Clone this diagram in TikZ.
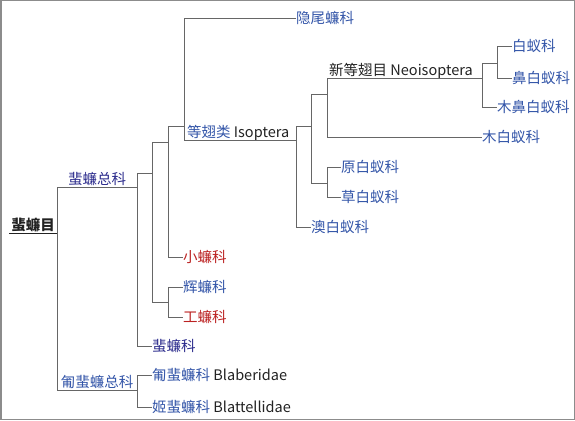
\documentclass[tikz,border=0pt]{standalone}
\usepackage{fontspec}
\setmainfont{Noto Sans CJK SC}
\definecolor{lnk}{HTML}{3355A8}
\definecolor{vis}{HTML}{2B2B8C}
\definecolor{red2}{HTML}{BB2222}
\definecolor{ln}{HTML}{666666}
\definecolor{txt}{HTML}{222222}
\tikzset{
  br/.style={draw=ln, line width=0.9pt},
  leaf/.style={anchor=west, inner sep=0pt, text height=11pt, text depth=0pt, font=\fontsize{14.5}{17}\selectfont},
  lbl/.style={anchor=base, inner sep=0pt, font=\fontsize{14.5}{17}\selectfont},
  lblw/.style={anchor=base west, inner sep=0pt, font=\fontsize{14.5}{17}\selectfont},
}
\begin{document}
\begin{tikzpicture}[x=1pt,y=-1pt]
\useasboundingbox (0,0) rectangle (575,420);
\draw[draw=gray!90, line width=1.5pt] (0.75,0.75) rectangle (574.25,419.25);

% junctions
\coordinate (R)   at (57,233);
\coordinate (S1)  at (137,187);
\coordinate (S2)  at (137,390);
\coordinate (J1)  at (152,173);
\coordinate (J2)  at (168,142);
\coordinate (J3)  at (168,302);
\coordinate (J4)  at (184,126);
\coordinate (J5)  at (296,140);
\coordinate (J6)  at (311,126);
\coordinate (J7)  at (327,94);
\coordinate (J8)  at (327,183);
\coordinate (J9)  at (482,78);
\coordinate (J10) at (497,63);
\coordinate (R0)  at (9,233);

% internal labels
\node[lbl, text=txt, font=\fontsize{14.5}{17}\selectfont\bfseries] (root) at (33,230.5) {蜚蠊目};
\node[lbl, text=vis] (s1) at (97,184.5) {蜚蠊总科};
\node[lbl, text=lnk] (s2) at (97,387.5) {匍蜚蠊总科};
\node[lblw] (iso) at (187,137.5) {\textcolor{lnk}{等翅类} \textcolor{txt}{Isoptera}};
\node[lblw, text=txt] (neo) at (329,75.5) {新等翅目 Neoisoptera};

% leaves
\node[leaf, text=vis]  (f1)  at (152,346) {蜚蠊科};
\node[leaf, text=red2] (f2)  at (183,257) {小蠊科};
\node[leaf, text=lnk]  (f3)  at (183,287) {辉蠊科};
\node[leaf, text=red2] (f4)  at (183,317) {工蠊科};
\node[leaf, text=lnk]  (f5)  at (296,18)  {隐尾蠊科};
\node[leaf, text=lnk]  (f6)  at (311,227) {澳白蚁科};
\node[leaf, text=lnk]  (f7)  at (341,167) {原白蚁科};
\node[leaf, text=lnk]  (f8)  at (341,197) {草白蚁科};
\node[leaf, text=lnk]  (f9)  at (482,137) {木白蚁科};
\node[leaf, text=lnk]  (f10) at (497,107) {木鼻白蚁科};
\node[leaf, text=lnk]  (f11) at (512,46)  {白蚁科};
\node[leaf, text=lnk]  (f12) at (512,78)  {鼻白蚁科};
\node[leaf] (f13) at (152,375) {\textcolor{lnk}{匍蜚蠊科} \textcolor{txt}{Blaberidae}};
\node[leaf] (f14) at (152,407) {\textcolor{lnk}{姬蜚蠊科} \textcolor{txt}{Blattellidae}};

% branches
\draw[draw=txt, line width=0.9pt] (R0) -- (R);
\draw[br] (R) |- (S1);
\draw[br] (R) |- (S2);
\draw[br] (S1) |- (J1);
\draw[br] (S1) |- (f1.west);
\draw[br] (J1) |- (J2);
\draw[br] (J1) |- (J3);
\draw[br] (J2) |- (J4);
\draw[br] (J2) |- (f2.west);
\draw[br] (J3) |- (f3.west);
\draw[br] (J3) |- (f4.west);
\draw[br] (J4) |- (f5.west);
\draw[br] (J4) |- (J5);
\draw[br] (J5) |- (J6);
\draw[br] (J5) |- (f6.west);
\draw[br] (J6) |- (J7);
\draw[br] (J6) |- (J8);
\draw[br] (J8) |- (f7.west);
\draw[br] (J8) |- (f8.west);
\draw[br] (J7) |- (J9);
\draw[br] (J7) |- (f9.west);
\draw[br] (J9) |- (J10);
\draw[br] (J9) |- (f10.west);
\draw[br] (J10) |- (f11.west);
\draw[br] (J10) |- (f12.west);
\draw[br] (S2) |- (f13.west);
\draw[br] (S2) |- (f14.west);
\end{tikzpicture}
\end{document}
